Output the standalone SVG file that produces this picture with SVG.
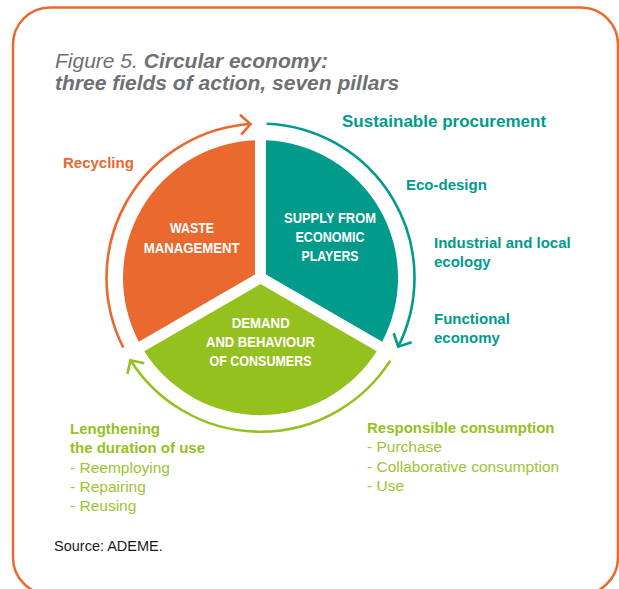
<svg xmlns="http://www.w3.org/2000/svg" width="619" height="589" viewBox="0 0 619 589">
<style>
.t{font-family:"Liberation Sans",Arial,sans-serif}
.title{font-size:21px;fill:#6E7073;font-style:italic}
.wl{font-size:14.5px;font-weight:bold;fill:#FFFFFF;text-anchor:middle}
.tb{font-size:15px;font-weight:bold;fill:#009B8A}
.tbl{font-size:17px;font-weight:bold;fill:#009B8A}
.gb{font-size:15px;font-weight:bold;fill:#95C11F}
.gr{font-size:15.5px;fill:#9CC433}
.ob{font-size:15px;font-weight:bold;fill:#E9692F}
.arc{fill:none;stroke-width:2.6}
</style>
<defs>
<marker id="ao" markerUnits="userSpaceOnUse" markerWidth="30" markerHeight="30" viewBox="-15 -15 30 30" refX="0" refY="0" orient="auto"><path d="M-10,-10 L0,0 L-10,10" fill="none" stroke="#E9692F" stroke-width="2.6"/></marker>
<marker id="at" markerUnits="userSpaceOnUse" markerWidth="30" markerHeight="30" viewBox="-15 -15 30 30" refX="0" refY="0" orient="auto"><path d="M-10,-10 L0,0 L-10,10" fill="none" stroke="#009B8A" stroke-width="2.6"/></marker>
<marker id="ag" markerUnits="userSpaceOnUse" markerWidth="30" markerHeight="30" viewBox="-15 -15 30 30" refX="0" refY="0" orient="auto"><path d="M-10,-10 L0,0 L-10,10" fill="none" stroke="#95C11F" stroke-width="2.6"/></marker>
</defs>
<rect x="13" y="7.5" width="605" height="587" rx="37" ry="37" fill="#FFFFFF" stroke="#E9692F" stroke-width="2.5"/>
<text class="t title" x="55" y="68"><tspan>Figure 5. </tspan><tspan font-weight="bold">Circular economy:</tspan></text>
<text class="t title" x="55" y="90" font-weight="bold">three fields of action, seven pillars</text>
<g id="connectors">
<path class="arc" stroke="#E9692F" d="M123.3,347.6 A154,154 0 0 1 250.56,124.02" marker-end="url(#ao)"/>
<path class="arc" stroke="#009B8A" d="M266.68,123.82 A154,154 0 0 1 398.2,346.66" marker-end="url(#at)"/>
<path class="arc" stroke="#95C11F" d="M390.25,360.67 A154,154 0 0 1 130.48,360.21" marker-end="url(#ag)"/>
</g>
<g id="waste">
<path d="M255,274.5 L138.77,341.64 A137.5,137.5 0 0 1 255.01,140.31 Z" fill="#E9692F"/>
<text class="t wl" x="192" y="233.3" textLength="44" lengthAdjust="spacingAndGlyphs">WASTE</text>
<text class="t wl" x="191.7" y="252.7" textLength="96" lengthAdjust="spacingAndGlyphs">MANAGEMENT</text>
</g>
<g id="supply">
<path d="M266,274.5 L265.99,140.31 A137.5,137.5 0 0 1 382.23,341.64 Z" fill="#009B8A"/>
<text class="t wl" x="330" y="223" textLength="92" lengthAdjust="spacingAndGlyphs">SUPPLY FROM</text>
<text class="t wl" x="330" y="242" textLength="69" lengthAdjust="spacingAndGlyphs">ECONOMIC</text>
<text class="t wl" x="330" y="261" textLength="57" lengthAdjust="spacingAndGlyphs">PLAYERS</text>
</g>
<g id="demand">
<path d="M260.5,284.05 L376.74,351.15 A137.5,137.5 0 0 1 144.26,351.15 Z" fill="#95C11F"/>
<text class="t wl" x="260.7" y="328" textLength="58" lengthAdjust="spacingAndGlyphs">DEMAND</text>
<text class="t wl" x="260.5" y="347" textLength="109" lengthAdjust="spacingAndGlyphs">AND BEHAVIOUR</text>
<text class="t wl" x="260.5" y="366" textLength="102" lengthAdjust="spacingAndGlyphs">OF CONSUMERS</text>
</g>
<g id="recycling"><text class="t ob" x="63" y="168">Recycling</text></g>
<g id="sustainable-procurement"><text class="t tbl" x="342" y="127">Sustainable procurement</text></g>
<g id="eco-design"><text class="t tb" x="406" y="190">Eco-design</text></g>
<g id="industrial-ecology"><text class="t tb" x="434" y="248">Industrial and local</text><text class="t tb" x="434" y="267">ecology</text></g>
<g id="functional-economy"><text class="t tb" x="434" y="324">Functional</text><text class="t tb" x="434" y="343">economy</text></g>
<g id="lengthening">
<text class="t gb" x="70" y="434">Lengthening</text>
<text class="t gb" x="70" y="453">the duration of use</text>
<text class="t gr" x="70" y="473">- Reemploying</text>
<text class="t gr" x="70" y="492">- Repairing</text>
<text class="t gr" x="70" y="510.5">- Reusing</text>
</g>
<g id="responsible-consumption">
<text class="t gb" x="367" y="433">Responsible consumption</text>
<text class="t gr" x="367" y="452">- Purchase</text>
<text class="t gr" x="367" y="472">- Collaborative consumption</text>
<text class="t gr" x="367" y="491">- Use</text>
</g>
<text class="t" x="54" y="551" font-size="14.5" fill="#1A1A1A">Source: ADEME.</text>
</svg>
